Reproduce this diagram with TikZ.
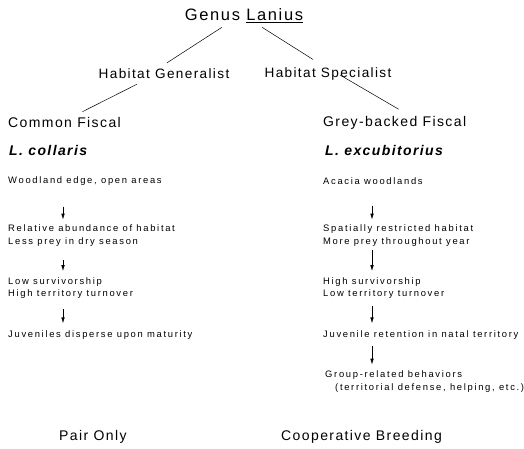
\documentclass[tikz,border=0pt]{standalone}
\usepackage{fontspec}
\setmainfont{Liberation Sans}[LetterSpace=10]
\newfontfamily\smallfnt{Liberation Sans}[LetterSpace=18]
\usetikzlibrary{arrows.meta,%
                positioning}

\begin{document}
\begin{tikzpicture}[x=1pt, y=-1pt, >={Latex[length=6pt,width=3.6pt]}, inner sep=1pt,
                    genus node/.style={font=\fontsize{16.5}{18}\selectfont},
                    habitat node/.style={font=\fontsize{13.6}{16}\selectfont},
                    name node/.style={anchor=west,font=\fontsize{14}{16}\selectfont},
                    species node/.style={anchor=west,font=\fontsize{14}{16}\selectfont\bfseries\itshape},
                    trait node/.style={anchor=west,align=left,font=\smallfnt\fontsize{9.4}{12.5}\selectfont},
                    link/.style={line width=0.5pt},
                    flow/.style={->,line width=0.7pt}]
  \useasboundingbox (0,0) rectangle (524,449);

  \node[genus node] (genus) at (244,16) {Genus \underline{Lanius}};
  \node[habitat node] (gen) at (164,74) {Habitat Generalist};
  \node[habitat node] (spec) at (328,74) {Habitat Specialist};

  % left column
  \node[name node] (common) at (7,122) {Common Fiscal};
  \node[species node] (collaris) at (8,150) {L. collaris};
  \node[trait node] (wood) at (7,181) {Woodland edge, open areas};
  \node[trait node] (relab) at (7,235.5) {Relative abundance of habitat\\Less prey in dry season};
  \node[trait node] (lowsurv) at (7,288) {Low survivorship\\High territory turnover};
  \node[trait node] (disperse) at (7,335) {Juveniles disperse upon maturity};
  \node[name node] (pair) at (58,437) {Pair Only};

  % right column
  \node[name node] (grey) at (322,123) {Grey-backed Fiscal};
  \node[species node] (excub) at (324,150) {L. excubitorius};
  \node[trait node] (acacia) at (322,181) {Acacia woodlands};
  \node[trait node] (spatial) at (322,235.5) {Spatially restricted habitat\\More prey throughout year};
  \node[trait node] (highsurv) at (322,288) {High survivorship\\Low territory turnover};
  \node[trait node] (retain) at (322,335) {Juvenile retention in natal territory};
  \node[trait node] (group) at (324,381.5) {Group-related behaviors\\\hspace*{10pt}(territorial defense, helping, etc.)};
  \node[name node] (coop) at (280,437) {Cooperative Breeding};

  \coordinate (lx) at (63,0);
  \coordinate (rx) at (372,0);

  \path[link]
    ([xshift=-22pt,yshift=-3pt]genus.south) edge ([xshift=3pt,yshift=5pt]gen.north)
    ([xshift=18pt,yshift=-3pt]genus.south) edge ([xshift=-15pt,yshift=7pt]spec.north)
    ([xshift=-27pt,yshift=-4pt]gen.south) edge ([xshift=18pt,yshift=4pt]common.north)
    ([xshift=12pt,yshift=-1pt]spec.center) edge ([xshift=4pt,yshift=6pt]grey.north);

  \draw[flow, shorten <=20pt, shorten >=4pt] (lx |- wood.south) -- (lx |- relab.north);
  \draw[flow, shorten <=13pt, shorten >=5pt] (lx |- relab.south) -- (lx |- lowsurv.north);
  \draw[flow, shorten <=9pt, shorten >=6pt] (lx |- lowsurv.south) -- (lx |- disperse.north);

  \draw[flow, shorten <=20pt, shorten >=4pt] (rx |- acacia.south) -- (rx |- spatial.north);
  \draw[flow, shorten <=3pt, shorten >=5pt] (rx |- spatial.south) -- (rx |- highsurv.north);
  \draw[flow, shorten <=6pt, shorten >=6pt] (rx |- highsurv.south) -- (rx |- retain.north);
  \draw[flow, shorten <=5pt, shorten >=5pt] (rx |- retain.south) -- (rx |- group.north);
\end{tikzpicture}
\end{document}
